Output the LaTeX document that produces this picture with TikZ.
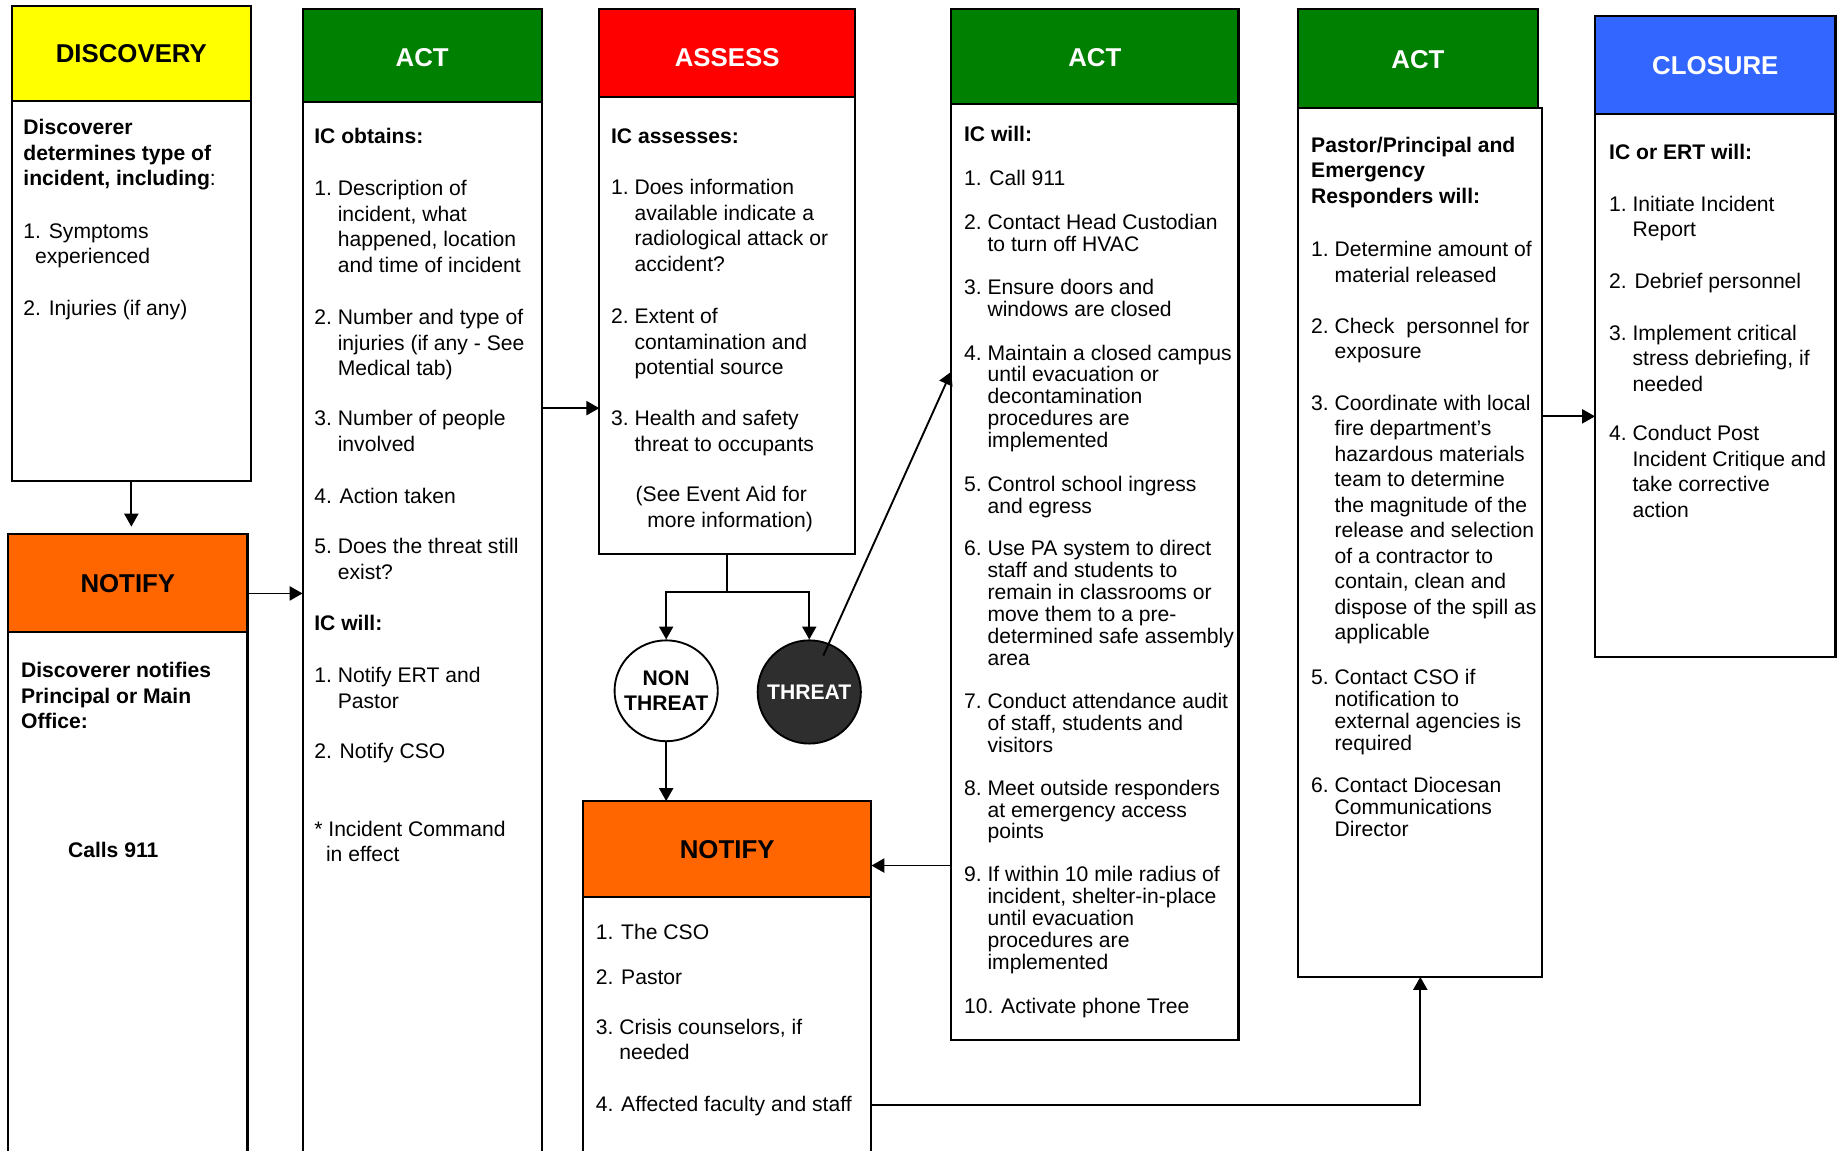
\documentclass[tikz,border=0pt]{standalone}
\usepackage{fontspec}
\setmainfont{Liberation Sans}
\usetikzlibrary{arrows.meta,shapes.geometric}
\definecolor{cyel}{HTML}{FFFF00}
\definecolor{cgrn}{HTML}{008000}
\definecolor{cred}{HTML}{FF0000}
\definecolor{corg}{HTML}{FF6600}
\definecolor{cblu}{HTML}{3366FF}
\definecolor{cdark}{HTML}{2E2E2E}
\newcommand\tabN[1]{\begin{tabular}[t]{@{}l@{\ }l@{}}#1\end{tabular}}
\newcommand\tabL[1]{\begin{tabular}[t]{@{}l@{}}#1\end{tabular}}
\newcommand\zb[1]{\makebox[0pt]{#1}}
\begin{document}
\begin{tikzpicture}[x=1pt,y=-1pt,
  box/.style={draw, line width=1.8pt, anchor=north west, inner sep=0pt, outer sep=0pt, fill=white},
  hdr/.style={box, font=\fontsize{22}{26}\selectfont\bfseries, text height=16pt, text depth=0pt},
  txt/.style={anchor=base west, inner sep=0pt, outer sep=0pt, font=\fontsize{18}{21.7}\selectfont},
  txtc/.style={txt, font=\fontsize{18}{18.6}\selectfont},
  arr/.style={line width=1.6pt, -{Triangle[length=11pt,width=12pt]}},
  ln/.style={line width=1.6pt},
  oval/.style={ellipse, draw, line width=1.6pt, inner sep=0pt, minimum width=88pt, minimum height=86pt, align=center, font=\fontsize{18}{21}\selectfont\bfseries}
]
\useasboundingbox (0,0) rectangle (1568,981);
\clip (0,0) rectangle (1568,981);
\fill[white] (0,0) rectangle (1568,981);

% DISCOVERY
\node[box, minimum width=204pt, minimum height=324pt] (db) at (10,86) {};
\node[hdr, fill=cyel, minimum width=204pt, minimum height=81pt] (dh) at (10,5) {DISCOVERY};
% NOTIFY (left)
\node[box, minimum width=204pt, minimum height=470pt] (nb) at (7,539) {};
\node[hdr, fill=corg, minimum width=204pt, minimum height=84pt] (nh) at (7,455) {NOTIFY};
% ACT 1
\node[box, minimum width=204pt, minimum height=920pt] (a1b) at (258,87) {};
\node[hdr, fill=cgrn, text=white, minimum width=204pt, minimum height=79pt, text height=19pt] (a1h) at (258,8) {ACT};
% ASSESS
\node[box, minimum width=218pt, minimum height=389pt] (asb) at (511,83) {};
\node[hdr, fill=cred, text=white, minimum width=218pt, minimum height=75pt, text height=23pt] (ash) at (511,8) {ASSESS};
% ACT 2
\node[box, minimum width=245pt, minimum height=798pt] (a2b) at (811,89) {};
\node[hdr, fill=cgrn, text=white, minimum width=245pt, minimum height=81pt] (a2h) at (811,8) {ACT};
% ACT 3
\node[box, minimum width=208pt, minimum height=741pt] (a3b) at (1107,92) {};
\node[hdr, fill=cgrn, text=white, minimum width=204pt, minimum height=84pt] (a3h) at (1107,8) {ACT};
% CLOSURE
\node[box, minimum width=205pt, minimum height=463pt] (clb) at (1360,97) {};
\node[hdr, fill=cblu, text=white, minimum width=205pt, minimum height=83pt] (clh) at (1360,14) {CLOSURE};
% NOTIFY 2
\node[box, minimum width=246pt, minimum height=300pt] (n2b) at (497,765) {};
\node[hdr, fill=corg, minimum width=246pt, minimum height=82pt] (n2h) at (497,683) {NOTIFY};

% ovals
\node[oval, fill=white] (nt) at (568,589) {\zb{NON}\\\zb{THREAT}};
\node[oval, fill=cdark, text=white, minimum height=88pt] (th) at (690,590) {\zb{THREAT}};

% level coordinates
\coordinate (y348) at (0,348);
\coordinate (y317) at (0,317);
\coordinate (y738) at (0,738);
\coordinate (y942) at (0,942);
\coordinate (y355) at (0,355);

% connectors
\draw[arr, shorten >=6pt] (db.south) -- (db.south |- nh.north);
\draw[arr] ([yshift=-9pt]nh.east) -- ([yshift=-9pt]nh.east -| a1b.west);
\draw[arr] (a1b.east |- y348) -- (asb.west |- y348);
\draw[ln] (asb.south) -- ++(0,33) coordinate (split);
\draw[arr] (split) -| (nt.north);
\draw[arr] (split) -| (th.north);
\draw[arr] (nt.south) -- (nt.south |- n2h.north);
\draw[arr] ([shift={(12,-31)}]th.center) -- (a2b.west |- y317);
\draw[arr] (a2b.west |- y738) -- (n2h.east |- y738);
\draw[arr] (n2b.east |- y942) -| (a3b.south);
\draw[arr] (a3b.east |- y355) -- (clb.west |- y355);

% DISCOVERY text
\node[txt] (d1) at (20,115) {\tabL{\textbf{Discoverer}\\\textbf{determines type of}\\\textbf{incident, including}:}};
\node[txt] (d2) at (20,203) {\tabL{1. Symptoms\\\hspace*{10pt}experienced}};
\node[txt] (d3) at (20,269) {2. Injuries (if any)};

% NOTIFY left text
\node[txt] (nl1) at (18,578) {\bfseries\tabL{Discoverer notifies\\Principal or Main\\Office:}};
\node[txt] (nl2) at (58,731) {\textbf{Calls 911}};

% ACT 1 text
\node[txt] (a1t) at (268,122) {\textbf{IC obtains:}};
\node[txt] (a1i1) at (268,167) {\tabN{1.&Description of\\&incident, what\\&happened, location\\&and time of incident}};
\node[txt] (a1i2) at (268,277) {\tabN{2.&Number and type of\\&injuries (if any - See\\&Medical tab)}};
\node[txt] (a1i3) at (268,363) {\tabN{3.&Number of people\\&involved}};
\node[txt] (a1i4) at (268,429) {4. Action taken};
\node[txt] (a1i5) at (268,472) {\tabN{5.&Does the threat still\\&exist?}};
\node[txt] (a1t2) at (268,538) {\textbf{IC will:}};
\node[txt] (a1i6) at (268,582) {\tabN{1.&Notify ERT and\\&Pastor}};
\node[txt] (a1i7) at (268,647) {2. Notify CSO};
\node[txt] (a1i8) at (268,713) {\tabL{* Incident Command\\\hspace*{10pt}in effect}};

% ASSESS text
\node[txt] (ast) at (521,122) {\textbf{IC assesses:}};
\node[txt] (as1) at (521,166) {\tabN{1.&Does information\\&available indicate a\\&radiological attack or\\&accident?}};
\node[txt] (as2) at (521,276) {\tabN{2.&Extent of\\&contamination and\\&potential source}};
\node[txt] (as3) at (521,363) {\tabN{3.&Health and safety\\&threat to occupants}};
\node[txt] (as4) at (542,428) {\tabL{(See Event Aid for\\\hspace*{10pt}more information)}};

% ACT 2 text
\node[txt] (a2t) at (822,121) {\textbf{IC will:}};
\node[txtc] (a2i1) at (822,158) {1. Call 911};
\node[txtc] (a2i2) at (822,196) {\tabN{2.&Contact Head Custodian\\&to turn off HVAC}};
\node[txtc] (a2i3) at (822,251) {\tabN{3.&Ensure doors and\\&windows are closed}};
\node[txtc] (a2i4) at (822,307) {\tabN{4.&Maintain a closed campus\\&until evacuation or\\&decontamination\\&procedures are\\&implemented}};
\node[txtc] (a2i5) at (822,419) {\tabN{5.&Control school ingress\\&and egress}};
\node[txtc] (a2i6) at (822,474) {\tabN{6.&Use PA system to direct\\&staff and students to\\&remain in classrooms or\\&move them to a pre-\\&determined safe assembly\\&area}};
\node[txtc] (a2i7) at (822,604) {\tabN{7.&Conduct attendance audit\\&of staff, students and\\&visitors}};
\node[txtc] (a2i8) at (822,678) {\tabN{8.&Meet outside responders\\&at emergency access\\&points}};
\node[txtc] (a2i9) at (822,752) {\tabN{9.&If within 10 mile radius of\\&incident, shelter-in-place\\&until evacuation\\&procedures are\\&implemented}};
\node[txtc] (a2i10) at (822,864) {10. Activate phone Tree};

% ACT 3 text
\node[txt] (a3t) at (1118,130) {\bfseries\tabL{Pastor/Principal and\\Emergency\\Responders will:}};
\node[txt] (a3i1) at (1118,219) {\tabN{1.&Determine amount of\\&material released}};
\node[txt] (a3i2) at (1118,284) {\tabN{2.&Check\ \ personnel for\\&exposure}};
\node[txt] (a3i3) at (1118,350) {\tabN{3.&Coordinate with local\\&fire department’s\\&hazardous materials\\&team to determine\\&the magnitude of the\\&release and selection\\&of a contractor to\\&contain, clean and\\&dispose of the spill as\\&applicable}};
\node[txtc] (a3i5) at (1118,584) {\tabN{5.&Contact CSO if\\&notification to\\&external agencies is\\&required}};
\node[txtc] (a3i6) at (1118,676) {\tabN{6.&Contact Diocesan\\&Communications\\&Director}};

% CLOSURE text
\node[txt] (clt) at (1372,136) {\textbf{IC or ERT will:}};
\node[txt] (cl1) at (1372,180) {\tabN{1.&Initiate Incident\\&Report}};
\node[txt] (cl2) at (1372,246) {2. Debrief personnel};
\node[txt] (cl3) at (1372,290) {\tabN{3.&Implement critical\\&stress debriefing, if\\&needed}};
\node[txt] (cl4) at (1372,376) {\tabN{4.&Conduct Post\\&Incident Critique and\\&take corrective\\&action}};

% NOTIFY 2 text
\node[txt] (n21) at (508,801) {1. The CSO};
\node[txt] (n22) at (508,839) {2. Pastor};
\node[txt] (n23) at (508,882) {\tabN{3.&Crisis counselors, if\\&needed}};
\node[txt] (n24) at (508,948) {4. Affected faculty and staff};
\end{tikzpicture}
\end{document}
